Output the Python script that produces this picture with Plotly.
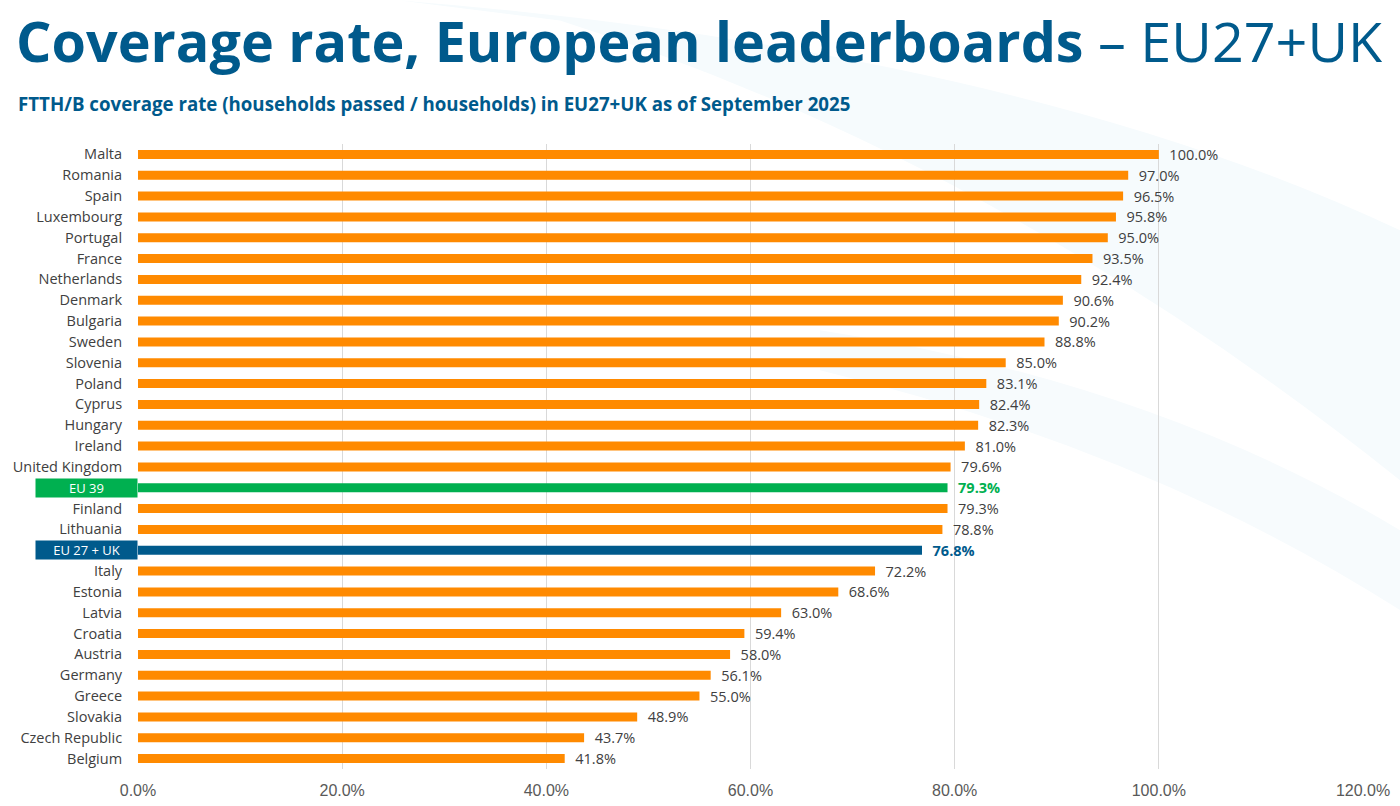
import plotly.graph_objects as go

countries = ["Malta", "Romania", "Spain", "Luxembourg", "Portugal", "France", "Netherlands",
             "Denmark", "Bulgaria", "Sweden", "Slovenia", "Poland", "Cyprus", "Hungary",
             "Ireland", "United Kingdom", "EU 39", "Finland", "Lithuania", "EU 27 + UK",
             "Italy", "Estonia", "Latvia", "Croatia", "Austria", "Germany", "Greece",
             "Slovakia", "Czech Republic", "Belgium"]
coverage = [100.0, 97.0, 96.5, 95.8, 95.0, 93.5, 92.4, 90.6, 90.2, 88.8, 85.0, 83.1, 82.4, 82.3,
            81.0, 79.6, 79.3, 79.3, 78.8, 76.8, 72.2, 68.6, 63.0, 59.4, 58.0, 56.1, 55.0,
            48.9, 43.7, 41.8]
x_ticks = [0, 20, 40, 60, 80, 100, 120]

ORANGE = "#FF8A00"
GREEN = "#00B050"
BLUE = "#005A8C"
GREY = "#404040"
FONT = "Open Sans"
highlight = {"EU 39": GREEN, "EU 27 + UK": BLUE}

# plot area in pixels
L, T, W, H = 138, 143.6, 1225, 625.4


def px_x(x):
    return (x - L) / W


def px_y(y):
    return (T + H - y) / H


bar_colors = [highlight.get(c, ORANGE) for c in countries]
text_colors = [highlight.get(c, GREY) for c in countries]
pad = "\u00a0\u00a0"
labels = [pad + (("<b>%.1f%%</b>" if c in highlight else "%.1f%%") % v)
          for c, v in zip(countries, coverage)]
tick_text = ["" if c in highlight else c for c in countries]

fig = go.Figure(go.Bar(
    x=coverage, y=countries, orientation="h",
    marker=dict(color=bar_colors, line=dict(width=0)),
    text=labels, textposition="outside", cliponaxis=False, constraintext="none",
    textfont=dict(color=text_colors, size=14.5, family=FONT),
    hoverinfo="skip",
))

# faint background swooshes
fig.add_shape(type="path", xref="paper", yref="paper", layer="below",
              path="M %f %f Q %f %f %f %f L %f %f Q %f %f %f %f Z" % (
                  px_x(400), px_y(0), px_x(1020), px_y(50), px_x(1400), px_y(230),
                  px_x(1400), px_y(480), px_x(1000), px_y(160), px_x(560), px_y(20)),
              fillcolor="#F6FBFD", line=dict(width=0))
fig.add_shape(type="path", xref="paper", yref="paper", layer="below",
              path="M %f %f Q %f %f %f %f L %f %f Q %f %f %f %f Z" % (
                  px_x(820), px_y(330), px_x(1150), px_y(380), px_x(1400), px_y(530),
                  px_x(1400), px_y(610), px_x(1150), px_y(450), px_x(820), px_y(370)),
              fillcolor="#F7FBFD", line=dict(width=0))

for c in highlight:
    fig.add_annotation(
        x=0, xref="paper", xanchor="right", y=c, yref="y",
        text=c, showarrow=False, width=101, height=18, align="center",
        bgcolor=highlight[c], font=dict(color="white", size=13, family=FONT),
        borderpad=0,
    )

fig.add_annotation(
    x=px_x(14), y=px_y(40), xref="paper", yref="paper", xanchor="left", yanchor="middle",
    showarrow=False,
    text="<b>Coverage rate, European leaderboards</b> – EU27+UK",
    font=dict(family=FONT, size=55.7, color=BLUE),
)
fig.add_annotation(
    x=px_x(16), y=px_y(103), xref="paper", yref="paper", xanchor="left", yanchor="middle",
    showarrow=False,
    text="<b>FTTH/B coverage rate (households passed / households) in EU27+UK as of September 2025</b>",
    font=dict(family=FONT, size=18.7, color=BLUE),
)

fig.update_layout(
    width=1400, height=806,
    margin=dict(l=L, r=1400 - L - W, t=T, b=806 - T - H, autoexpand=False),
    paper_bgcolor="white", plot_bgcolor="rgba(0,0,0,0)",
    showlegend=False, bargap=0.57,
    xaxis=dict(
        range=[0, 120], tickvals=x_ticks, ticktext=["%.1f%%" % t for t in x_ticks],
        showgrid=True, gridcolor="#D9D9D9", gridwidth=1, zeroline=False,
        tickfont=dict(family="Liberation Sans", size=16, color="#595959"),
        ticks="outside", ticklen=7, tickcolor="rgba(0,0,0,0)", showline=False,
        automargin=False,
    ),
    yaxis=dict(
        categoryorder="array", categoryarray=countries[::-1],
        tickvals=countries, ticktext=tick_text, autorange=False, range=[-0.5, 29.5],
        tickfont=dict(family=FONT, size=14.5, color=GREY),
        ticks="outside", ticklen=12, tickcolor="rgba(0,0,0,0)", showgrid=False,
        automargin=False,
    ),
)

fig.write_html("out.html", config={"displayModeBar": False},
               post_script="document.body.style.margin='0';")
